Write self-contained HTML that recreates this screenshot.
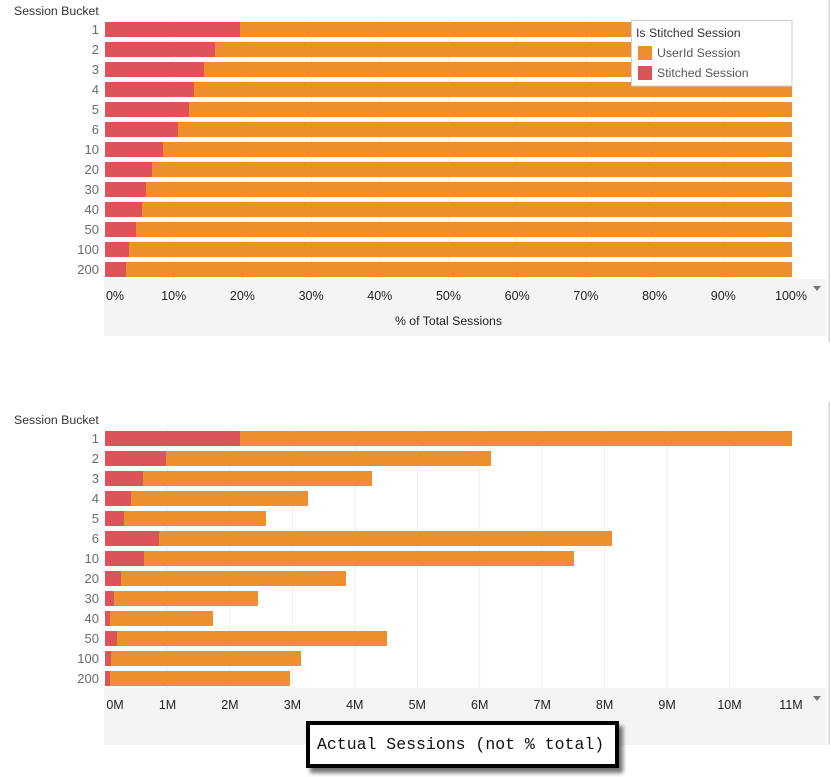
<!DOCTYPE html>
<html><head><meta charset="utf-8"><style>
html,body{margin:0;padding:0;background:#fff;}
body{width:831px;height:777px;position:relative;overflow:hidden;font-family:"Liberation Sans",sans-serif;}
svg{position:absolute;left:0;top:0;}
.box{position:absolute;left:306px;top:721px;width:298px;height:39px;border:4px solid #000;background:#fff;box-shadow:4px 5px 4px rgba(0,0,0,0.55);font-family:"Liberation Mono",monospace;font-size:16.5px;line-height:39px;padding-left:7px;box-sizing:content-box;color:#111;white-space:nowrap;}
</style></head><body>
<svg width="831" height="777" viewBox="0 0 831 777" xmlns="http://www.w3.org/2000/svg" font-family="Liberation Sans, sans-serif">
<!-- right border lines -->
<rect x="828.5" y="0" width="1.5" height="342" fill="#d9d9d9"/>
<rect x="828.5" y="402" width="1.5" height="343" fill="#d9d9d9"/>

<!-- TOP CHART -->
<text x="14" y="15" font-size="12.3" fill="#333">Session Bucket</text>
<rect x="104" y="279" width="722" height="57" fill="#f4f4f4"/>
<g stroke="#eeeeee" stroke-width="1">
<line x1="173.7" y1="20" x2="173.7" y2="279"/><line x1="242.4" y1="20" x2="242.4" y2="279"/>
<line x1="311.1" y1="20" x2="311.1" y2="279"/><line x1="379.8" y1="20" x2="379.8" y2="279"/>
<line x1="448.5" y1="20" x2="448.5" y2="279"/><line x1="517.2" y1="20" x2="517.2" y2="279"/>
<line x1="585.9" y1="20" x2="585.9" y2="279"/><line x1="654.6" y1="20" x2="654.6" y2="279"/>
<line x1="723.3" y1="20" x2="723.3" y2="279"/>
</g>
<g id="topbars">
<rect x="105" y="22" width="687" height="15" fill="#ec8f2c"/><rect x="105" y="22" width="135" height="15" fill="#dc5459"/>
<rect x="105" y="42" width="687" height="15" fill="#ec8f2c"/><rect x="105" y="42" width="110" height="15" fill="#dc5459"/>
<rect x="105" y="62" width="687" height="15" fill="#ec8f2c"/><rect x="105" y="62" width="99" height="15" fill="#dc5459"/>
<rect x="105" y="82" width="687" height="15" fill="#ec8f2c"/><rect x="105" y="82" width="89" height="15" fill="#dc5459"/>
<rect x="105" y="102" width="687" height="15" fill="#ec8f2c"/><rect x="105" y="102" width="84" height="15" fill="#dc5459"/>
<rect x="105" y="122" width="687" height="15" fill="#ec8f2c"/><rect x="105" y="122" width="73" height="15" fill="#dc5459"/>
<rect x="105" y="142" width="687" height="15" fill="#ec8f2c"/><rect x="105" y="142" width="58" height="15" fill="#dc5459"/>
<rect x="105" y="162" width="687" height="15" fill="#ec8f2c"/><rect x="105" y="162" width="47" height="15" fill="#dc5459"/>
<rect x="105" y="182" width="687" height="15" fill="#ec8f2c"/><rect x="105" y="182" width="41" height="15" fill="#dc5459"/>
<rect x="105" y="202" width="687" height="15" fill="#ec8f2c"/><rect x="105" y="202" width="37" height="15" fill="#dc5459"/>
<rect x="105" y="222" width="687" height="15" fill="#ec8f2c"/><rect x="105" y="222" width="31" height="15" fill="#dc5459"/>
<rect x="105" y="242" width="687" height="15" fill="#ec8f2c"/><rect x="105" y="242" width="24" height="15" fill="#dc5459"/>
<rect x="105" y="262" width="687" height="15" fill="#ec8f2c"/><rect x="105" y="262" width="21" height="15" fill="#dc5459"/>
</g>
<g font-size="13" fill="#6b6b6b" text-anchor="end">
<text x="99" y="34">1</text><text x="99" y="54">2</text><text x="99" y="74">3</text><text x="99" y="94">4</text>
<text x="99" y="114">5</text><text x="99" y="134">6</text><text x="99" y="154">10</text><text x="99" y="174">20</text>
<text x="99" y="194">30</text><text x="99" y="214">40</text><text x="99" y="234">50</text><text x="99" y="254">100</text>
<text x="99" y="274">200</text>
</g>
<g font-size="12.5" fill="#222" text-anchor="middle">
<text x="115" y="300">0%</text><text x="173.7" y="300">10%</text><text x="242.4" y="300">20%</text>
<text x="311.1" y="300">30%</text><text x="379.8" y="300">40%</text><text x="448.5" y="300">50%</text>
<text x="517.2" y="300">60%</text><text x="585.9" y="300">70%</text><text x="654.6" y="300">80%</text>
<text x="723.3" y="300">90%</text><text x="791" y="300">100%</text>
<text x="448.5" y="325" font-size="12.3">% of Total Sessions</text>
</g>
<polygon points="813,286 821,286 817,291" fill="#777"/>
<!-- legend -->
<rect x="631.5" y="20.5" width="160.5" height="65.5" fill="#fff" stroke="#d0d0d0" stroke-width="1"/>
<text x="636" y="37" font-size="12.3" fill="#333">Is Stitched Session</text>
<rect x="638" y="46" width="14" height="14" fill="#ec8f2c"/>
<rect x="638" y="66" width="14" height="14" fill="#dc5459"/>
<text x="657" y="57" font-size="12.3" fill="#555">UserId Session</text>
<text x="657" y="77" font-size="12.3" fill="#555">Stitched Session</text>

<!-- BOTTOM CHART -->
<text x="14" y="424" font-size="12.3" fill="#333">Session Bucket</text>
<rect x="104" y="688" width="722" height="57" fill="#f4f4f4"/>
<g stroke="#eeeeee" stroke-width="1">
<line x1="167.5" y1="428" x2="167.5" y2="688"/><line x1="229.9" y1="428" x2="229.9" y2="688"/>
<line x1="292.4" y1="428" x2="292.4" y2="688"/><line x1="354.8" y1="428" x2="354.8" y2="688"/>
<line x1="417.3" y1="428" x2="417.3" y2="688"/><line x1="479.7" y1="428" x2="479.7" y2="688"/>
<line x1="542.2" y1="428" x2="542.2" y2="688"/><line x1="604.6" y1="428" x2="604.6" y2="688"/>
<line x1="667.1" y1="428" x2="667.1" y2="688"/><line x1="729.5" y1="428" x2="729.5" y2="688"/>
</g>
<g>
<rect x="105" y="431" width="687" height="15" fill="#ec8f2c"/><rect x="105" y="431" width="135" height="15" fill="#dc5459"/>
<rect x="105" y="451" width="386" height="15" fill="#ec8f2c"/><rect x="105" y="451" width="61" height="15" fill="#dc5459"/>
<rect x="105" y="471" width="267" height="15" fill="#ec8f2c"/><rect x="105" y="471" width="38" height="15" fill="#dc5459"/>
<rect x="105" y="491" width="203" height="15" fill="#ec8f2c"/><rect x="105" y="491" width="26" height="15" fill="#dc5459"/>
<rect x="105" y="511" width="161" height="15" fill="#ec8f2c"/><rect x="105" y="511" width="19" height="15" fill="#dc5459"/>
<rect x="105" y="531" width="507" height="15" fill="#ec8f2c"/><rect x="105" y="531" width="54" height="15" fill="#dc5459"/>
<rect x="105" y="551" width="469" height="15" fill="#ec8f2c"/><rect x="105" y="551" width="39" height="15" fill="#dc5459"/>
<rect x="105" y="571" width="241" height="15" fill="#ec8f2c"/><rect x="105" y="571" width="16" height="15" fill="#dc5459"/>
<rect x="105" y="591" width="153" height="15" fill="#ec8f2c"/><rect x="105" y="591" width="9" height="15" fill="#dc5459"/>
<rect x="105" y="611" width="108" height="15" fill="#ec8f2c"/><rect x="105" y="611" width="5" height="15" fill="#dc5459"/>
<rect x="105" y="631" width="282" height="15" fill="#ec8f2c"/><rect x="105" y="631" width="12" height="15" fill="#dc5459"/>
<rect x="105" y="651" width="196" height="15" fill="#ec8f2c"/><rect x="105" y="651" width="6" height="15" fill="#dc5459"/>
<rect x="105" y="671" width="185" height="15" fill="#ec8f2c"/><rect x="105" y="671" width="5" height="15" fill="#dc5459"/>
</g>
<g font-size="13" fill="#6b6b6b" text-anchor="end">
<text x="99" y="443">1</text><text x="99" y="463">2</text><text x="99" y="483">3</text><text x="99" y="503">4</text>
<text x="99" y="523">5</text><text x="99" y="543">6</text><text x="99" y="563">10</text><text x="99" y="583">20</text>
<text x="99" y="603">30</text><text x="99" y="623">40</text><text x="99" y="643">50</text><text x="99" y="663">100</text>
<text x="99" y="683">200</text>
</g>
<g font-size="12.5" fill="#222" text-anchor="middle">
<text x="115" y="709">0M</text><text x="167.5" y="709">1M</text><text x="229.9" y="709">2M</text>
<text x="292.4" y="709">3M</text><text x="354.8" y="709">4M</text><text x="417.3" y="709">5M</text>
<text x="479.7" y="709">6M</text><text x="542.2" y="709">7M</text><text x="604.6" y="709">8M</text>
<text x="667.1" y="709">9M</text><text x="729.5" y="709">10M</text><text x="791" y="709">11M</text>
</g>
<polygon points="813,696 821,696 817,701" fill="#777"/>
</svg>
<div class="box">Actual Sessions (not % total)</div>
</body></html>
